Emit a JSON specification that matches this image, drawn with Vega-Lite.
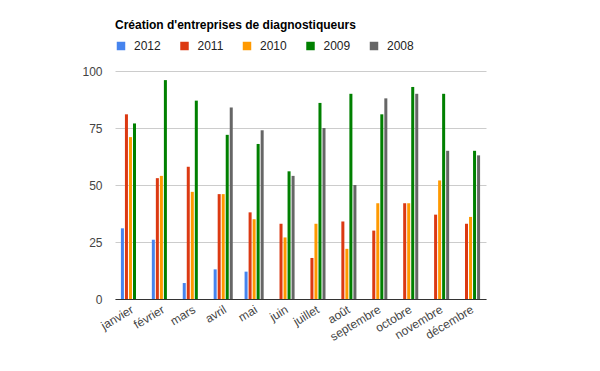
{
  "$schema": "https://vega.github.io/schema/vega-lite/v6.json",
  "width": 371,
  "height": 228,
  "autosize": "none",
  "padding": {"left": 115, "top": 71, "right": 114, "bottom": 72},
  "background": "white",
  "config": {"view": {"stroke": null}, "font": "Liberation Sans"},
  "title": {
    "text": "Création d'entreprises de diagnostiqueurs",
    "anchor": "start",
    "frame": "group",
    "font": "Liberation Sans",
    "fontSize": 12,
    "fontWeight": "bold",
    "color": "#000000",
    "offset": 8
  },
  "data": {
    "values": [
      {"mois": "janvier", "annee": "2012", "valeur": 31},
      {"mois": "janvier", "annee": "2011", "valeur": 81},
      {"mois": "janvier", "annee": "2010", "valeur": 71},
      {"mois": "janvier", "annee": "2009", "valeur": 77},
      {"mois": "février", "annee": "2012", "valeur": 26},
      {"mois": "février", "annee": "2011", "valeur": 53},
      {"mois": "février", "annee": "2010", "valeur": 54},
      {"mois": "février", "annee": "2009", "valeur": 96},
      {"mois": "mars", "annee": "2012", "valeur": 7},
      {"mois": "mars", "annee": "2011", "valeur": 58},
      {"mois": "mars", "annee": "2010", "valeur": 47},
      {"mois": "mars", "annee": "2009", "valeur": 87},
      {"mois": "avril", "annee": "2012", "valeur": 13},
      {"mois": "avril", "annee": "2011", "valeur": 46},
      {"mois": "avril", "annee": "2010", "valeur": 46},
      {"mois": "avril", "annee": "2009", "valeur": 72},
      {"mois": "avril", "annee": "2008", "valeur": 84},
      {"mois": "mai", "annee": "2012", "valeur": 12},
      {"mois": "mai", "annee": "2011", "valeur": 38},
      {"mois": "mai", "annee": "2010", "valeur": 35},
      {"mois": "mai", "annee": "2009", "valeur": 68},
      {"mois": "mai", "annee": "2008", "valeur": 74},
      {"mois": "juin", "annee": "2011", "valeur": 33},
      {"mois": "juin", "annee": "2010", "valeur": 27},
      {"mois": "juin", "annee": "2009", "valeur": 56},
      {"mois": "juin", "annee": "2008", "valeur": 54},
      {"mois": "juillet", "annee": "2011", "valeur": 18},
      {"mois": "juillet", "annee": "2010", "valeur": 33},
      {"mois": "juillet", "annee": "2009", "valeur": 86},
      {"mois": "juillet", "annee": "2008", "valeur": 75},
      {"mois": "août", "annee": "2011", "valeur": 34},
      {"mois": "août", "annee": "2010", "valeur": 22},
      {"mois": "août", "annee": "2009", "valeur": 90},
      {"mois": "août", "annee": "2008", "valeur": 50},
      {"mois": "septembre", "annee": "2011", "valeur": 30},
      {"mois": "septembre", "annee": "2010", "valeur": 42},
      {"mois": "septembre", "annee": "2009", "valeur": 81},
      {"mois": "septembre", "annee": "2008", "valeur": 88},
      {"mois": "octobre", "annee": "2011", "valeur": 42},
      {"mois": "octobre", "annee": "2010", "valeur": 42},
      {"mois": "octobre", "annee": "2009", "valeur": 93},
      {"mois": "octobre", "annee": "2008", "valeur": 90},
      {"mois": "novembre", "annee": "2011", "valeur": 37},
      {"mois": "novembre", "annee": "2010", "valeur": 52},
      {"mois": "novembre", "annee": "2009", "valeur": 90},
      {"mois": "novembre", "annee": "2008", "valeur": 65},
      {"mois": "décembre", "annee": "2011", "valeur": 33},
      {"mois": "décembre", "annee": "2010", "valeur": 36},
      {"mois": "décembre", "annee": "2009", "valeur": 65},
      {"mois": "décembre", "annee": "2008", "valeur": 63}
    ]
  },
  "mark": {"type": "bar"},
  "encoding": {
    "x": {
      "field": "mois",
      "type": "nominal",
      "sort": ["janvier", "février", "mars", "avril", "mai", "juin", "juillet", "août", "septembre", "octobre", "novembre", "décembre"],
      "scale": {"paddingInner": 0.35, "paddingOuter": 0.175},
      "axis": {
        "title": null,
        "labelAngle": -31,
        "labelAlign": "right",
        "labelBaseline": "middle",
        "ticks": false,
        "labelPadding": 9,
        "labelOffset": 2,
        "labelFontSize": 12,
        "labelColor": "#444444",
        "labelFont": "Liberation Sans",
        "domainColor": "#333333",
        "domainWidth": 1,
        "labelOverlap": false
      }
    },
    "xOffset": {
      "field": "annee",
      "type": "nominal",
      "sort": ["2012", "2011", "2010", "2009", "2008"],
      "scale": {"domain": ["2012", "2011", "2010", "2009", "2008"], "paddingInner": 0.25, "paddingOuter": 0.125}
    },
    "y": {
      "field": "valeur",
      "type": "quantitative",
      "scale": {"domain": [0, 100]},
      "axis": {
        "title": null,
        "values": [0, 25, 50, 75, 100],
        "ticks": false,
        "domain": false,
        "labelPadding": 13,
        "gridColor": "#cccccc",
        "labelFontSize": 12,
        "labelColor": "#444444",
        "labelFont": "Liberation Sans"
      }
    },
    "color": {
      "field": "annee",
      "type": "nominal",
      "sort": ["2012", "2011", "2010", "2009", "2008"],
      "scale": {
        "domain": ["2012", "2011", "2010", "2009", "2008"],
        "range": ["#4684ee", "#dc3912", "#ff9900", "#008000", "#666666"]
      },
      "legend": {
        "title": null,
        "orient": "none",
        "legendX": 0,
        "legendY": -31,
        "direction": "horizontal",
        "symbolType": "square",
        "symbolSize": 72,
        "symbolStrokeWidth": 0,
        "symbolOpacity": 1,
        "labelOffset": 7,
        "columnPadding": 17.5,
        "labelFontSize": 12,
        "labelColor": "#222222",
        "labelFont": "Liberation Sans",
        "padding": 0
      }
    }
  }
}
